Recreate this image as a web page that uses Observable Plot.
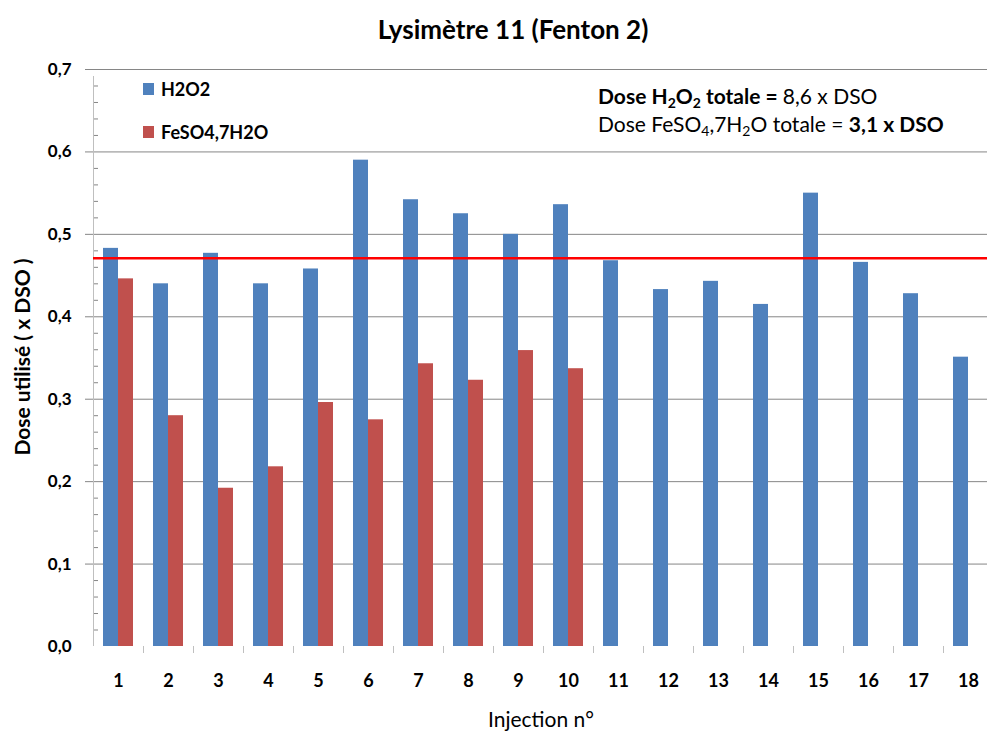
<!DOCTYPE html>
<html>
<head>
<meta charset="utf-8">
<script src="https://cdn.jsdelivr.net/npm/d3@7"></script>
<script src="https://cdn.jsdelivr.net/npm/@observablehq/plot@0.6"></script>
<style>
  html, body { margin: 0; padding: 0; background: #fff; }
  #wrap { position: relative; width: 987px; height: 731px; overflow: hidden; font-family: Lato, "Liberation Sans", sans-serif; color: #000; }
  #wrap svg { position: absolute; left: 0; top: 0; overflow: visible; }
  .lbl { position: absolute; white-space: nowrap; }
  #title { left: 0; width: 1026px; top: 13px; text-align: center; font-size: 26px; font-weight: bold; }
  #ytitle { left: 21px; top: 357px; transform: translate(-50%, -50%) rotate(-90deg); font-size: 21px; font-weight: bold; }
  #xtitle { left: 93px; width: 896px; top: 706px; text-align: center; font-size: 21px; }
  .leg { position: absolute; font-size: 18px; font-weight: bold; display: flex; align-items: center; }
  .sw { display: inline-block; width: 11px; height: 12px; margin-right: 7px; }
  .ann { position: absolute; left: 598px; font-size: 21px; }
  .ann sub { font-size: 14px; vertical-align: -4px; line-height: 0; }
</style>
</head>
<body>
<div id="wrap"></div>
<script>
// ---- data ----
const injections = [1, 2, 3, 4, 5, 6, 7, 8, 9, 10, 11, 12, 13, 14, 15, 16, 17, 18];
const h2o2 = [0.483, 0.440, 0.477, 0.440, 0.458, 0.590, 0.542, 0.525, 0.500, 0.536,
              0.468, 0.433, 0.443, 0.415, 0.550, 0.466, 0.428, 0.351];
const feso4 = [0.446, 0.280, 0.192, 0.218, 0.296, 0.275, 0.343, 0.323, 0.359, 0.337];
const seriesNames = ["H2O2", "FeSO4,7H2O"];
const seriesColors = ["#4F81BD", "#C0504D"];
const refLine = 0.471;
const yLabels = [0, 0.1, 0.2, 0.3, 0.4, 0.5, 0.6, 0.7];
const yGrid = [0.1, 0.2, 0.3, 0.4, 0.5, 0.6, 0.7];
const yMinor = [0.02, 0.04, 0.06, 0.08, 0.12, 0.14, 0.16, 0.18, 0.22, 0.24, 0.26, 0.28,
                0.32, 0.34, 0.36, 0.38, 0.42, 0.44, 0.46, 0.48, 0.52, 0.54, 0.56, 0.58,
                0.62, 0.64, 0.66, 0.68];

const barW = 0.3; // fraction of a category step occupied by one bar
const blueData = injections.map((inj, i) => ({inj, v: h2o2[i]}));
const redData = feso4.map((v, i) => ({inj: injections[i], v}));
const boundaries = injections.map(d => d + 0.5);
const fmt = d => d.toFixed(1).replace(".", ",");

const chart = Plot.plot({
  width: 987,
  height: 731,
  marginLeft: 93,
  marginRight: -6,
  marginTop: 69,
  marginBottom: 85,
  style: {fontFamily: "Lato, 'Liberation Sans', sans-serif", background: "transparent"},
  x: {type: "linear", domain: [0.5, 18.5]},
  y: {domain: [0, 0.7]},
  marks: [
    Plot.ruleY(yGrid, {stroke: "#868686", strokeWidth: 1}),
    Plot.axisY({ticks: yGrid, tickSize: 8, stroke: "#868686", text: null, label: null}),
    Plot.axisY({ticks: yLabels, tickSize: 0, tickPadding: 22, tickFormat: fmt,
                fontSize: 17, fontWeight: "bold", label: null}),
    Plot.ruleY(yMinor, {x1: 0.5, x2: 0.6, stroke: "#868686"}),
    Plot.ruleX([0.5], {y1: 0, y2: 0.7, stroke: "#BFBFBF", insetBottom: -7}),
    Plot.ruleX(boundaries, {y1: 0, y2: 0, stroke: "#BFBFBF", insetBottom: -7}),
    Plot.rectY(blueData, {x1: d => d.inj - barW, x2: d => d.inj, y1: 0, y2: "v", fill: seriesColors[0]}),
    Plot.rectY(redData, {x1: d => d.inj, x2: d => d.inj + barW, y1: 0, y2: "v", fill: seriesColors[1]}),
    Plot.ruleY([refLine], {stroke: "#FF0000", strokeWidth: 2.5}),
    Plot.axisX({ticks: injections, tickSize: 0, tickPadding: 28, tickFormat: d => String(d),
                fontSize: 18, fontWeight: "bold", label: null})
  ]
});

const wrap = document.getElementById("wrap");
wrap.appendChild(chart);

function addLabel(id, cls, html, styleText) {
  const el = document.createElement("div");
  if (id) el.id = id;
  el.className = cls;
  el.innerHTML = html;
  if (styleText) el.setAttribute("style", styleText);
  wrap.appendChild(el);
  return el;
}
addLabel("title", "lbl", "Lysimètre 11 (Fenton 2)");
addLabel("ytitle", "lbl", "Dose utilisé ( x DSO )");
addLabel("xtitle", "lbl", "Injection n°");
addLabel(null, "leg", `<span class="sw" style="background:${seriesColors[0]}"></span>${seriesNames[0]}`, "left:143px; top:78px;");
addLabel(null, "leg", `<span class="sw" style="background:${seriesColors[1]}"></span>${seriesNames[1]}`, "left:143px; top:121px;");
addLabel(null, "ann", `<b>Dose H<sub>2</sub>O<sub>2</sub> totale = </b> 8,6 x DSO`, "top:83px;");
addLabel(null, "ann", `Dose FeSO<sub>4</sub>,7H<sub>2</sub>O totale =  <b>3,1 x DSO</b>`, "top:111px;");
</script>
</body>
</html>
